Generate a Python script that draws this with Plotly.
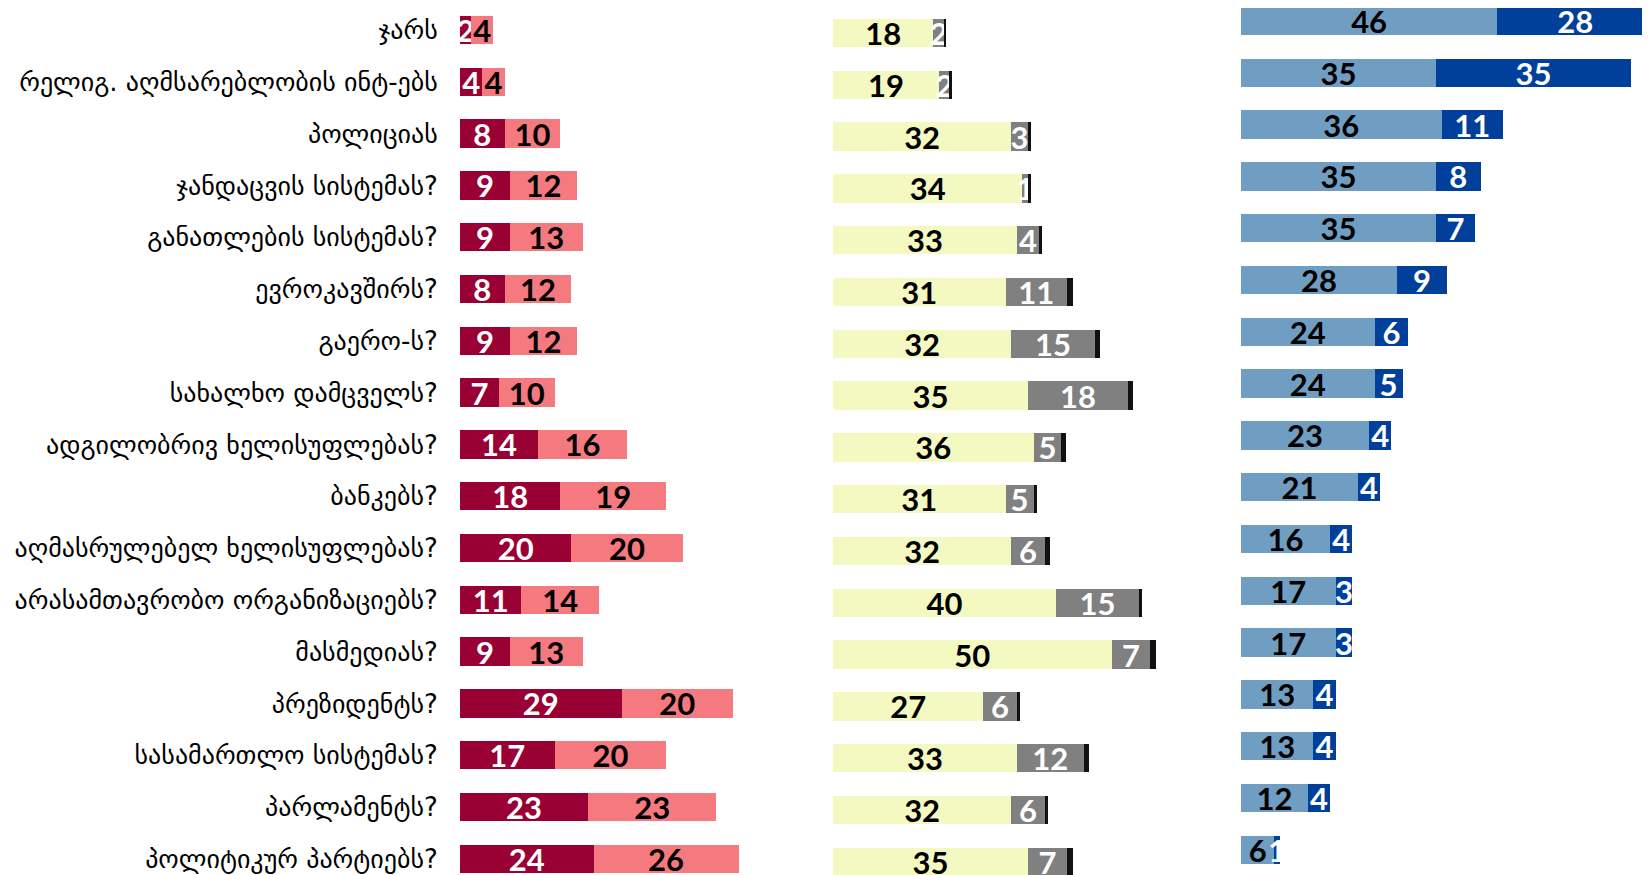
import plotly.graph_objects as go

# survey categories, top to bottom
categories = [
    "ჯარს",
    "რელიგ. აღმსარებლობის ინტ-ებს",
    "პოლიციას",
    "ჯანდაცვის სისტემას?",
    "განათლების სისტემას?",
    "ევროკავშირს?",
    "გაერო-ს?",
    "სახალხო დამცველს?",
    "ადგილობრივ ხელისუფლებას?",
    "ბანკებს?",
    "აღმასრულებელ ხელისუფლებას?",
    "არასამთავრობო ორგანიზაციებს?",
    "მასმედიას?",
    "პრეზიდენტს?",
    "სასამართლო სისტემას?",
    "პარლამენტს?",
    "პოლიტიკურ პარტიებს?",
]

# left block (distrust)
left_dark = [2, 4, 8, 9, 9, 8, 9, 7, 14, 18, 20, 11, 9, 29, 17, 23, 24]
left_light = [4, 4, 10, 12, 13, 12, 12, 10, 16, 19, 20, 14, 13, 20, 20, 23, 26]

# middle block (neutral / don't know / refuse)
mid_yellow = [18, 19, 32, 34, 33, 31, 32, 35, 36, 31, 32, 40, 50, 27, 33, 32, 35]
mid_gray = [2, 2, 3, 1, 4, 11, 15, 18, 5, 5, 6, 15, 7, 6, 12, 6, 7]
mid_black = [0.3, 0.3, 0.6, 0.5, 0.5, 1, 1, 0.8, 0.8, 0.6, 1, 0.5, 1, 0.6, 1, 0.6, 1]

# right block (trust)
right_light = [46, 35, 36, 35, 35, 28, 24, 24, 23, 21, 16, 17, 17, 13, 13, 12, 6]
right_dark = [28, 35, 11, 8, 7, 9, 6, 5, 4, 4, 4, 3, 3, 4, 4, 4, 1]

NUM_FONT = "Lato, 'Liberation Sans', sans-serif"
LABEL_FONT = "'DejaVu Sans', 'Noto Sans', sans-serif"

# the page body adds an 8px margin, so the figure is drawn 8px in
OFFSET = 8
W, H = 1650 - OFFSET, 875 - OFFSET
PX_PER_UNIT = 5.57
ROW_PX = 51.8


def seg(values, color, text_color, xa, ya, show_text=True):
    return go.Bar(
        y=categories,
        x=values,
        orientation="h",
        marker=dict(color=color, line=dict(width=0)),
        text=[f"{v}" for v in values] if show_text else None,
        textposition="inside" if show_text else "none",
        insidetextanchor="middle",
        textangle=0,
        constraintext="none",
        textfont=dict(family=NUM_FONT, size=31, color=text_color, weight="bold"),
        xaxis=xa,
        yaxis=ya,
        showlegend=False,
        hoverinfo="x+y",
    )


fig = go.Figure()
fig.add_trace(seg(left_dark, "#990033", "white", "x", "y"))
fig.add_trace(seg(left_light, "#F47A80", "black", "x", "y"))
fig.add_trace(seg(mid_yellow, "#F4F9C2", "black", "x2", "y2"))
fig.add_trace(seg(mid_gray, "#808080", "white", "x2", "y2"))
fig.add_trace(seg(mid_black, "#111111", "white", "x2", "y2", show_text=False))
fig.add_trace(seg(right_light, "#709EC3", "black", "x3", "y3"))
fig.add_trace(seg(right_dark, "#00409A", "white", "x3", "y3"))


def x_axis(page_px, span_units):
    start_px = page_px - OFFSET
    end_px = min(start_px + span_units * PX_PER_UNIT, W)
    return dict(
        domain=[start_px / W, end_px / W],
        range=[0, (end_px - start_px) / PX_PER_UNIT],
        visible=False,
        fixedrange=True,
    )


def y_axis(page_top_px, show_labels=False):
    top = -(page_top_px - OFFSET) / ROW_PX
    bottom = top + H / ROW_PX
    return dict(
        type="category",
        categoryorder="array",
        categoryarray=categories,
        range=[bottom, top],
        domain=[0, 1],
        showgrid=False,
        zeroline=False,
        showline=False,
        showticklabels=show_labels,
        ticks="outside" if show_labels else "",
        ticklen=16,
        tickcolor="white",
        tickfont=dict(family=LABEL_FONT, size=26, color="black"),
        fixedrange=True,
    )


fig.update_layout(
    width=W,
    height=H,
    margin=dict(l=0, r=0, t=0, b=0),
    paper_bgcolor="white",
    plot_bgcolor="white",
    barmode="stack",
    bargap=0.45,
    xaxis=x_axis(460, 61),
    xaxis2=x_axis(833, 62),
    xaxis3=x_axis(1241, 80),
    yaxis=dict(y_axis(30, True), anchor="x"),
    yaxis2=dict(y_axis(33), anchor="x2"),
    yaxis3=dict(y_axis(21), anchor="x3"),
)

fig.write_html("out.html")
